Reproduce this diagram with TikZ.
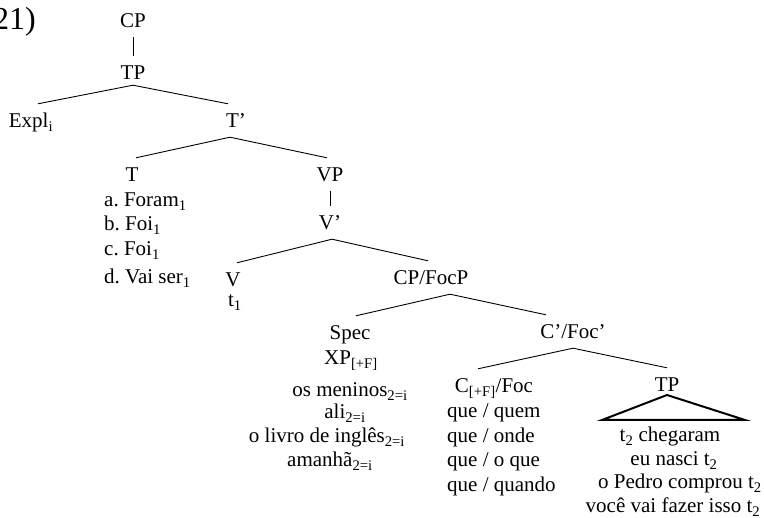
\documentclass[tikz,border=0pt]{standalone}
\usepackage{fontspec}
\setmainfont{Liberation Serif}
\frenchspacing
\tikzstyle{cat} = [inner sep=0pt, anchor=base, text height=24pt, text depth=9pt]
\tikzstyle{word} = [inner sep=0pt, anchor=base]
\tikzstyle{listed} = [inner sep=0pt, anchor=base west]
\tikzstyle{branch} = [line width=0.9pt]
\tikzstyle{roof} = [line width=2pt, line join=miter]

\begin{document}
\begin{tikzpicture}[x=1pt, y=-1pt, font=\fontsize{21}{24}\selectfont]
\useasboundingbox (0,0) rectangle (764,518);

\node (num) [word, anchor=base east, font=\fontsize{32}{36}\selectfont] at (36,30) {(21)};

% upper part
\node (cp) [cat] at (133,28) {CP};
\node (tp) [cat] at (133,80) {TP};
\node (expl) [cat] at (31,128) {Expl\textsubscript{i}};
\node (tbar) [cat] at (236,128) {T’};
\node (t) [cat] at (132,182) {T};
\node (vp) [cat] at (330,182) {VP};
\node (vbar) [cat] at (330,230) {V’};
\node (v) [cat] at (233,287) {V};
\node (tone) [word] at (235,307) {t\textsubscript{1}};

\node (fa) [listed] at (104,207) {a. Foram\textsubscript{1}};
\node (fb) [listed] at (104,231) {b. Foi\textsubscript{1}};
\node (fc) [listed] at (104,256) {c. Foi\textsubscript{1}};
\node (fd) [listed] at (104,284) {d. Vai ser\textsubscript{1}};

% focus part
\node (focp) [cat] at (431,285) {CP/FocP};
\node (spec) [cat] at (350,340) {Spec};
\node (xp) [word] at (351,365) {XP\textsubscript{[+F]}};
\node (sa) [word] at (350,397) {os meninos\textsubscript{2=i}};
\node (sb) [word] at (345,419) {ali\textsubscript{2=i}};
\node (sc) [word] at (327,443) {o livro de inglês\textsubscript{2=i}};
\node (sd) [word] at (330,467) {amanhã\textsubscript{2=i}};

\node (focbar) [cat] at (573,339) {C’/Foc’};
\node (foc) [cat] at (494,393) {C\textsubscript{[+F]}/Foc};
\node (qa) [listed] at (447,418) {que / quem};
\node (qb) [listed] at (447,443) {que / onde};
\node (qc) [listed] at (447,467) {que / o que};
\node (qd) [listed] at (447,492) {que / quando};

\node (tpb) [cat] at (667,392) {TP};
\node (ra) [word] at (670,442) {t\textsubscript{2} chegaram};
\node (rb) [word] at (674,466) {eu nasci t\textsubscript{2}};
\node (rc) [word] at (680,489) {o Pedro comprou t\textsubscript{2}};
\node (rd) [word] at (673,513) {você vai fazer isso t\textsubscript{2}};

% branches
\draw [branch] (cp.south) -- (tp.north);
\draw [branch] ([yshift=4pt]tp.south) -- ([xshift=7pt]expl.north);
\draw [branch] ([yshift=4pt]tp.south) -- ([xshift=-8pt]tbar.north);
\draw [branch] ([xshift=-6pt]tbar.south) -- ([xshift=4pt]t.north);
\draw [branch] ([xshift=-6pt]tbar.south) -- ([xshift=-3pt]vp.north);
\draw [branch] (vp.south) -- (vbar.north);
\draw [branch] ([xshift=2pt]vbar.south) -- ([xshift=4pt]v.north);
\draw [branch] ([xshift=2pt]vbar.south) -- ([xshift=-3pt]focp.north);
\draw [branch] ([xshift=19pt]focp.south) -- ([xshift=6pt]spec.north);
\draw [branch] ([xshift=19pt]focp.south) -- ([xshift=-27pt]focbar.north);
\draw [branch] (focbar.south) -- ([xshift=-16pt]foc.north);
\draw [branch] (focbar.south) -- (tpb.north);
\draw [roof] ([yshift=-3pt]tpb.base) -- ++(-65,25) -- ++(143,0) -- cycle;

\end{tikzpicture}
\end{document}
